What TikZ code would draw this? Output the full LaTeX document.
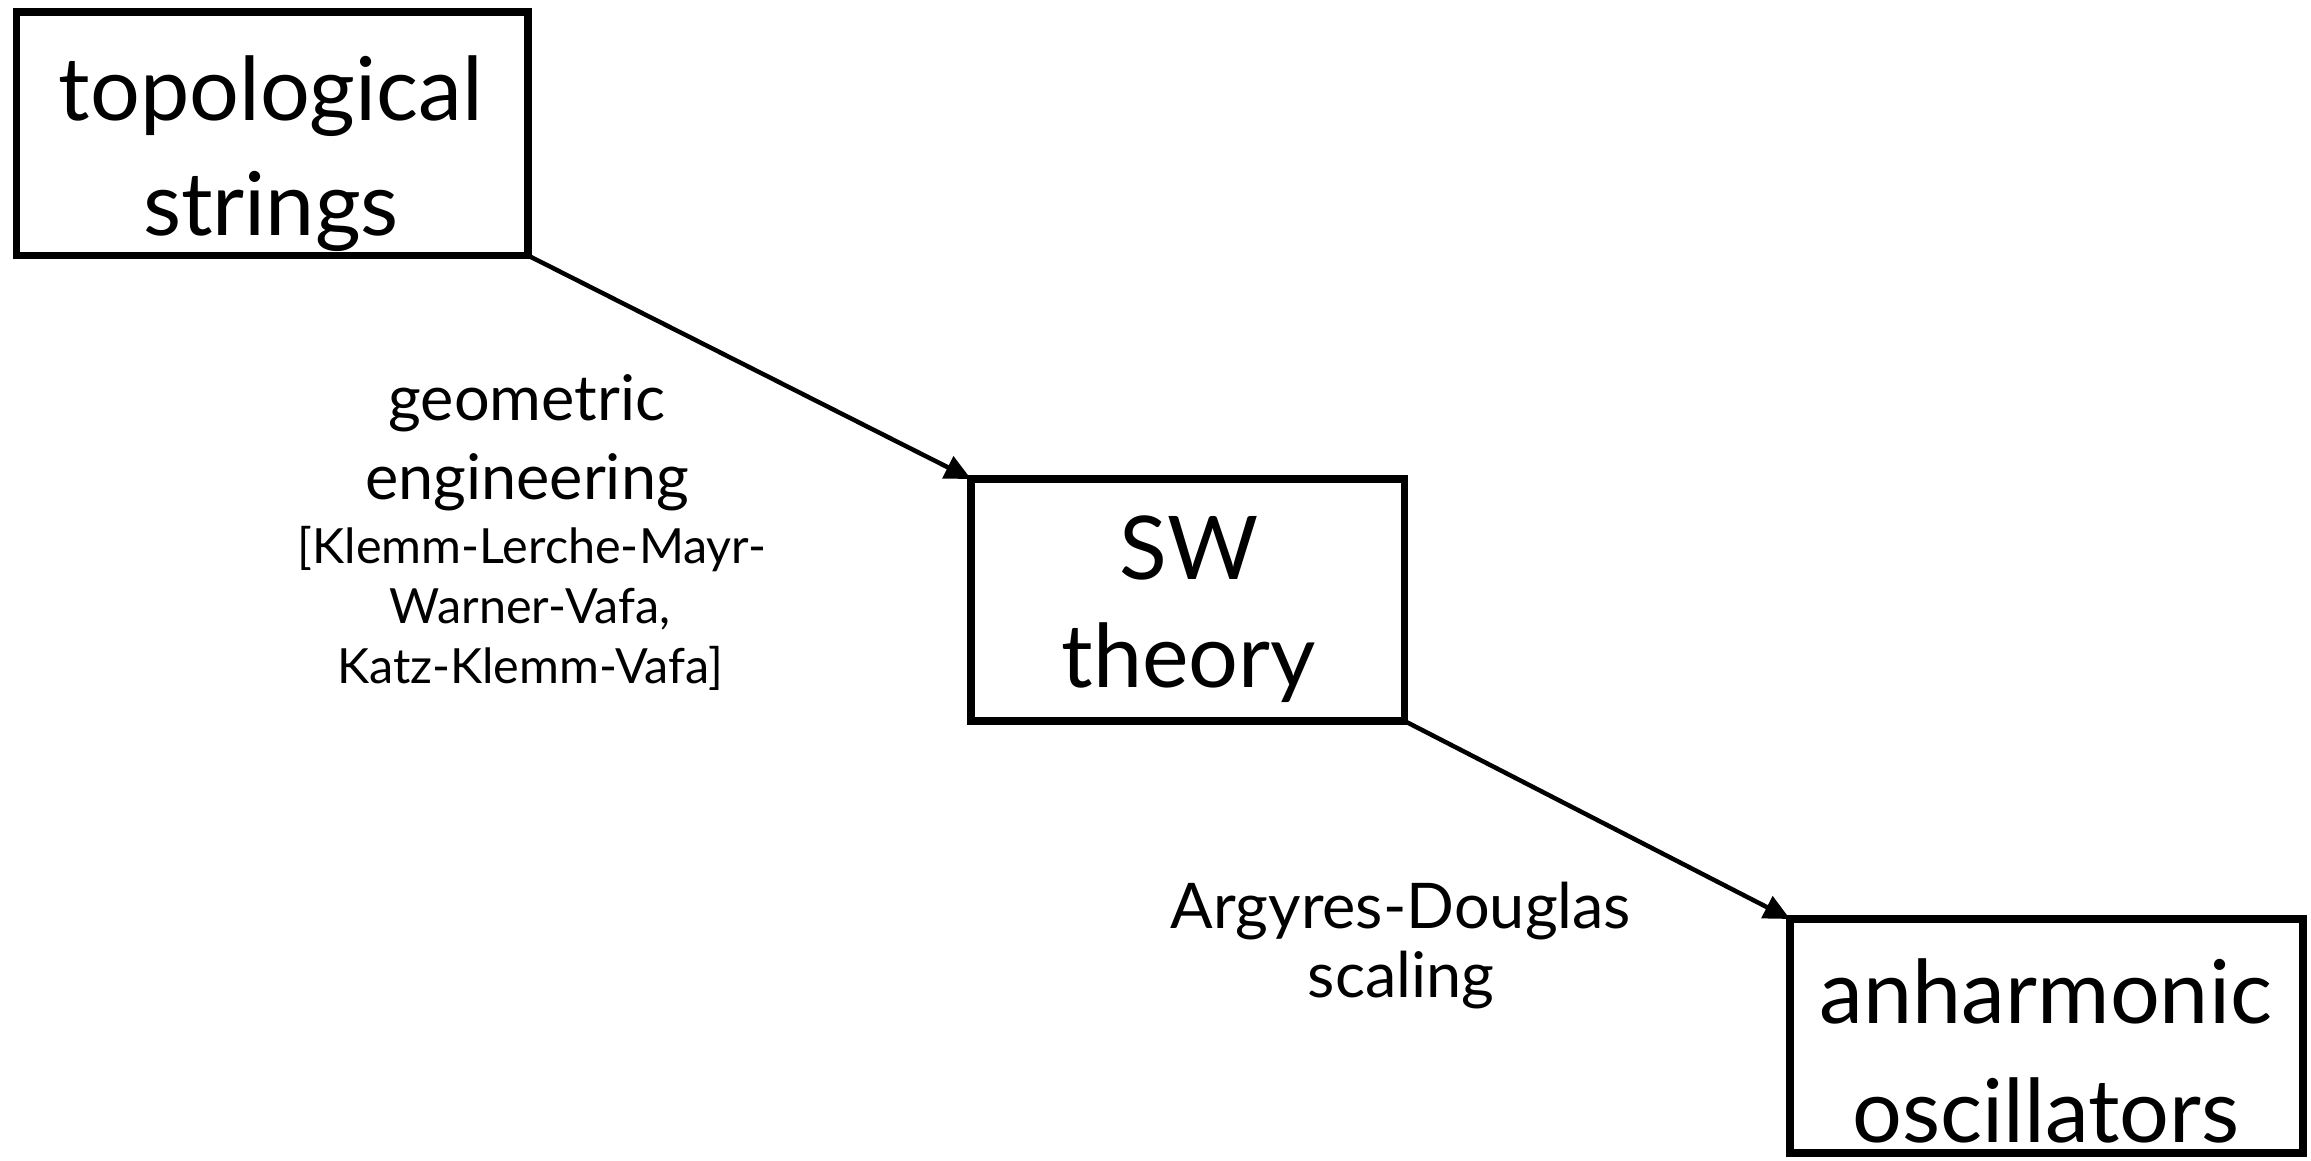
\documentclass[tikz,border=0pt]{standalone}
\usepackage{fontspec}
\setmainfont{Lato}
\usetikzlibrary{arrows.meta}
\begin{document}
\begin{tikzpicture}[x=1pt,y=-1pt,
  box/.style={draw=black, line width=7.5pt, rectangle, outer sep=0pt, inner sep=0pt},
  bigtxt/.style={anchor=base, inner sep=0pt, font=\fontsize{88}{100}\selectfont},
  midtxt/.style={anchor=base, inner sep=0pt, font=\fontsize{63}{70}\selectfont},
  smalltxt/.style={anchor=base, inner sep=0pt, font=\fontsize{48.5}{54}\selectfont},
  conn/.style={line width=4.5pt, -{Triangle[length=26pt,width=24pt]}}]
\useasboundingbox (0,0) rectangle (2311,1161);
\fill[white] (0,0) rectangle (2311,1161);
% boxes
\node[box, minimum width=511.5pt, minimum height=243.5pt] (ts) at (272.25,133.75) {};
\node[box, minimum width=433.5pt, minimum height=242pt] (sw) at (1187.75,600) {};
\node[box, minimum width=513pt, minimum height=234pt] (ao) at (2046.5,1036) {};
% box texts
\node[bigtxt] (ts1) at (271,121) {topological};
\node[bigtxt] (ts2) at (271,236) {strings};
\node[bigtxt] (sw1) at (1189,579) {SW};
\node[bigtxt] (sw2) at (1189,687) {theory};
\node[bigtxt] (ao1) at (2046,1023) {anharmonic};
\node[bigtxt] (ao2) at (2046,1142) {oscillators};
% labels
\node[midtxt] (ge1) at (527,420) {geometric};
\node[midtxt] (ge2) at (527,499) {engineering};
\node[smalltxt] (ref1) at (532,563) {[Klemm-Lerche-Mayr-};
\node[smalltxt] (ref2) at (530,623) {Warner-Vafa,};
\node[smalltxt] (ref3) at (530,683) {Katz-Klemm-Vafa]};
\node[midtxt] (ad1) at (1401,928) {Argyres-Douglas};
\node[midtxt] (ad2) at (1401,997) {scaling};
% connectors
\draw[conn] (ts.south east) -- (sw.north west);
\draw[conn] (sw.south east) -- (ao.north west);
\end{tikzpicture}
\end{document}
